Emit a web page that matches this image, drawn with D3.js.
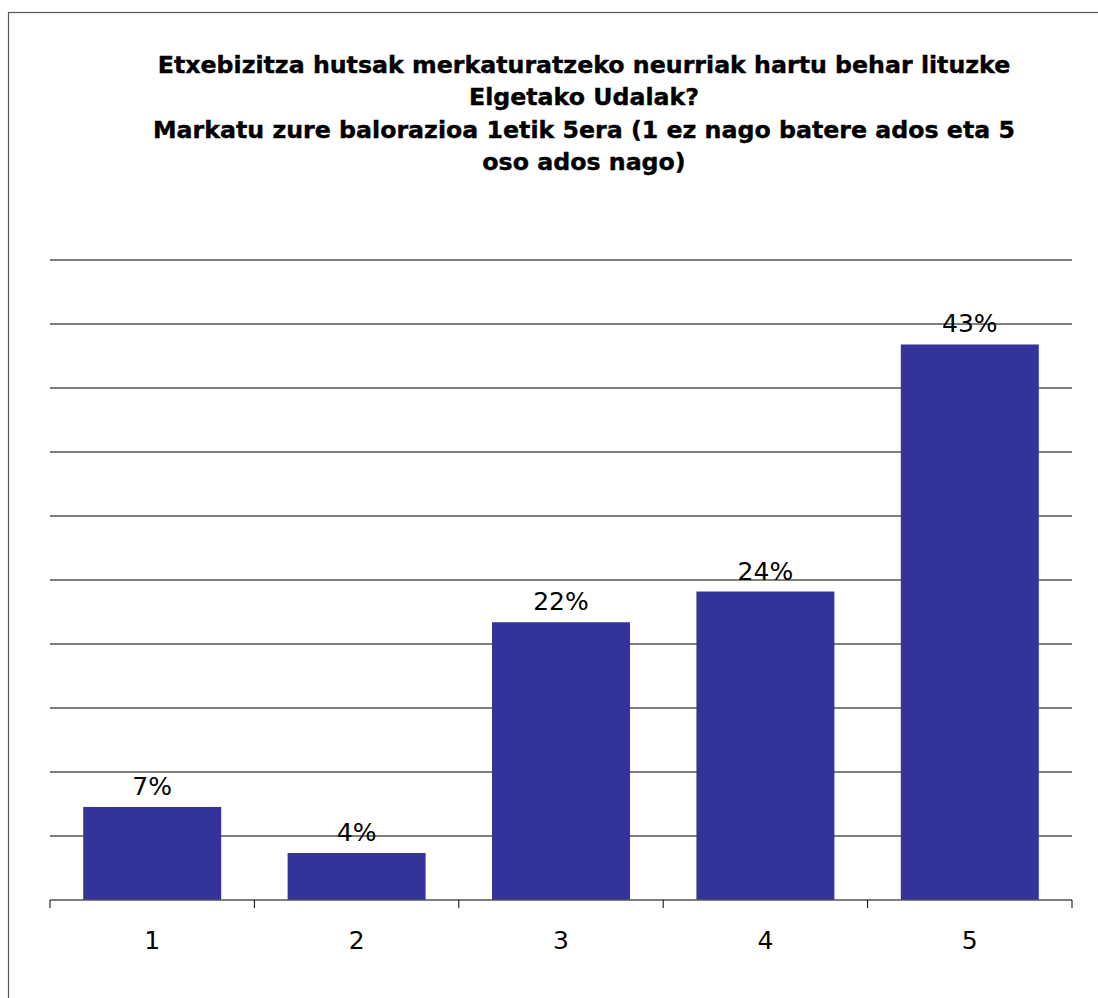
<!DOCTYPE html>
<html>
<head>
<meta charset="utf-8">
<script src="https://cdn.jsdelivr.net/npm/d3@7"></script>
<style>
  html, body { margin: 0; padding: 0; background: #fff; }
  svg { display: block; }
</style>
</head>
<body>
<svg id="chart" width="1098" height="998"></svg>
<script>
const titleLines = [
  "Etxebizitza hutsak merkaturatzeko neurriak hartu behar lituzke",
  "Elgetako Udalak?",
  "Markatu zure balorazioa 1etik 5era (1 ez nago batere ados eta 5",
  "oso ados nago)"
];
const categories = ["1", "2", "3", "4", "5"];
const values = [7.27, 3.67, 21.7, 24.1, 43.4];
const labels = ["7%", "4%", "22%", "24%", "43%"];
const yTicks = [0, 5, 10, 15, 20, 25, 30, 35, 40, 45, 50];

const svg = d3.select("#chart");
const font = "'DejaVu Sans', Verdana, sans-serif";

// outer border
svg.append("rect")
  .attr("x", 8.5).attr("y", 12.5)
  .attr("width", 1200).attr("height", 1200)
  .attr("fill", "none").attr("stroke", "#555").attr("stroke-width", 1.2);

// title
const title = svg.append("text")
  .attr("text-anchor", "middle")
  .attr("font-family", font)
  .attr("font-weight", "bold")
  .attr("font-size", 23.7)
  .attr("fill", "#000")
  .attr("stroke", "#000")
  .attr("stroke-width", 0.4);
titleLines.forEach((t, i) => {
  title.append("tspan").attr("x", 584).attr("y", 73 + i * 32.4).text(t);
});

const x = d3.scaleBand().domain(categories).range([50, 1072])
  .paddingInner(0.325).paddingOuter(0.1625);
const y = d3.scaleLinear().domain([0, 50]).range([900, 260]);

// gridlines
svg.append("g").selectAll("line").data(yTicks.slice(1)).join("line")
  .attr("x1", 50).attr("x2", 1072)
  .attr("y1", d => y(d)).attr("y2", d => y(d))
  .attr("stroke", "#555").attr("stroke-width", 1.3);

// bars
svg.append("g").selectAll("rect").data(values).join("rect")
  .attr("x", (d, i) => x(categories[i]))
  .attr("y", d => y(d))
  .attr("width", x.bandwidth())
  .attr("height", d => y(0) - y(d))
  .attr("fill", "#333399");

// baseline
svg.append("line")
  .attr("x1", 50).attr("x2", 1072)
  .attr("y1", y(0)).attr("y2", y(0))
  .attr("stroke", "#555").attr("stroke-width", 1.3);

// tick marks at band boundaries
const step = x.step();
const tickXs = d3.range(categories.length + 1).map(i => 50 + i * step);
svg.append("g").selectAll("line").data(tickXs).join("line")
  .attr("x1", d => d).attr("x2", d => d)
  .attr("y1", y(0)).attr("y2", y(0) + 8)
  .attr("stroke", "#000").attr("stroke-width", 1);

// category labels
svg.append("g").selectAll("text").data(categories).join("text")
  .attr("x", d => x(d) + x.bandwidth() / 2)
  .attr("y", 949)
  .attr("text-anchor", "middle")
  .attr("font-family", font)
  .attr("font-size", 25)
  .attr("fill", "#000")
  .text(d => d);

// value labels
svg.append("g").selectAll("text").data(values).join("text")
  .attr("x", (d, i) => x(categories[i]) + x.bandwidth() / 2)
  .attr("y", d => y(d) - 12)
  .attr("text-anchor", "middle")
  .attr("font-family", font)
  .attr("font-size", 25)
  .attr("fill", "#000")
  .text((d, i) => labels[i]);
</script>
</body>
</html>
